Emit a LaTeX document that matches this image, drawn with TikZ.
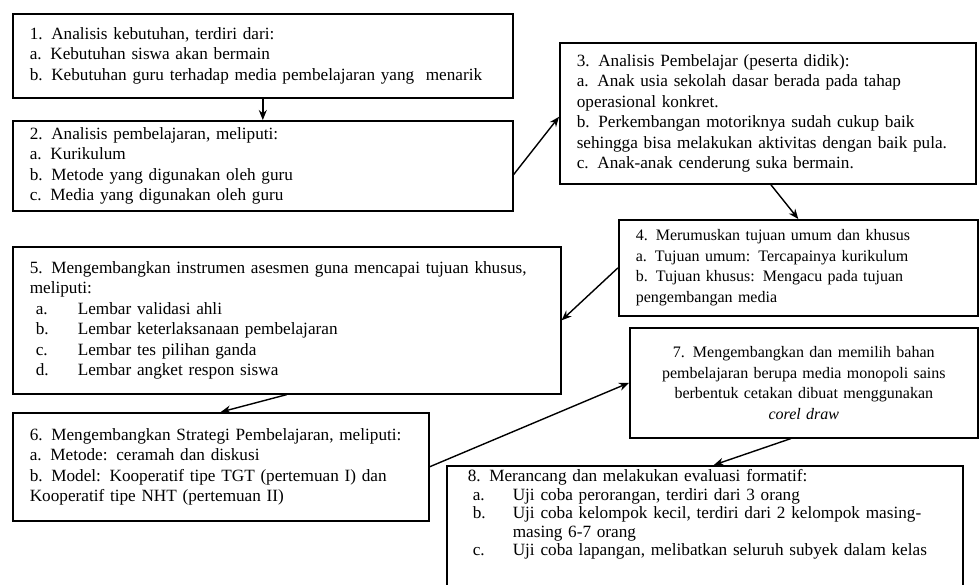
\documentclass[tikz,border=0pt]{standalone}
\usepackage{fontspec}
\setmainfont{Liberation Serif}
\usetikzlibrary{arrows.meta,calc}
\begin{document}
\begin{tikzpicture}[x=1pt,y=-1pt,
  box/.style={draw=black, line width=1.6pt, anchor=north west, inner xsep=17pt, inner ysep=4pt, align=left,
    font=\fontsize{17.2}{20.5}\selectfont},
  smallbox/.style={box, font=\fontsize{16}{20.5}\selectfont},
  arr/.style={line width=1.4pt, -{Stealth[length=10pt,width=8pt]}}]
\useasboundingbox (0,0) rectangle (979,584);
\fill[white] (0,0) rectangle (979,584);

\node[box, text width=466pt, minimum height=84pt] (b1) at (12,13) {%
1. Analisis kebutuhan, terdiri dari:\\
a. Kebutuhan siswa akan bermain\\
b. Kebutuhan guru terhadap media pembelajaran yang~ menarik};

\node[box, text width=466pt, minimum height=90pt] (b2) at (12,120) {%
2. Analisis pembelajaran, meliputi:\\
a. Kurikulum\\
b. Metode yang digunakan oleh guru\\
c. Media yang digunakan oleh guru};

\node[box, text width=382pt, minimum height=141pt] (b3) at (559,42) {%
3. Analisis Pembelajar (peserta didik):\\
a. Anak usia sekolah dasar berada pada tahap\\
operasional konkret.\\
b. Perkembangan motoriknya sudah cukup baik\\
sehingga bisa melakukan aktivitas dengan baik pula.\\
c. Anak-anak cenderung suka bermain.};

\node[smallbox, text width=325pt, minimum height=96pt] (b4) at (618,219) {%
4. Merumuskan tujuan umum dan khusus\\
a. Tujuan umum: Tercapainya kurikulum\\
b. Tujuan khusus: Mengacu pada tujuan\\
pengembangan media};

\node[box, text width=514pt, minimum height=147pt] (b5) at (12,246) {%
5. Mengembangkan instrumen asesmen guna mencapai tujuan khusus,\\
meliputi:\\
\hspace*{6pt}\makebox[42pt][l]{a.}Lembar validasi ahli\\
\hspace*{6pt}\makebox[42pt][l]{b.}Lembar keterlaksanaan pembelajaran\\
\hspace*{6pt}\makebox[42pt][l]{c.}Lembar tes pilihan ganda\\
\hspace*{6pt}\makebox[42pt][l]{d.}Lembar angket respon siswa};

\node[box, text width=382pt, minimum height=108pt] (b6) at (12,412) {%
6. Mengembangkan Strategi Pembelajaran, meliputi:\\
a. Metode: ceramah dan diskusi\\
b. Model: Kooperatif tipe TGT (pertemuan I) dan\\
Kooperatif tipe NHT (pertemuan II)};

\node[smallbox, text width=314pt, minimum height=110pt, align=center] (b7) at (629,327) {%
7. Mengembangkan dan memilih bahan\\
pembelajaran berupa media monopoli sains\\
berbentuk cetakan dibuat menggunakan\\
\textit{corel draw}};

\node[box, font=\fontsize{17.2}{18.5}\selectfont, text width=482pt, minimum height=150pt] (b8) at (446,465) {%
\hspace*{4pt}8. Merancang dan melakukan evaluasi formatif:\\
\hspace*{9pt}\makebox[40pt][l]{a.}Uji coba perorangan, terdiri dari 3 orang\\
\hspace*{9pt}\makebox[40pt][l]{b.}Uji coba kelompok kecil, terdiri dari 2 kelompok masing-\\
\hspace*{49pt}masing 6-7 orang\\
\hspace*{9pt}\makebox[40pt][l]{c.}Uji coba lapangan, melibatkan seluruh subyek dalam kelas\\
\rule{0pt}{60pt}};

\draw[arr] (b1.south) -- (b2.north);
\draw[arr] ([yshift=37pt]b2.south east) -- ([yshift=-3.5pt]b3.west);
\draw[arr] ([xshift=3pt]b3.south) -- (b4.north);
\draw[arr] (b4.west) -- (b5.east);
\draw[arr] (b5.south) -- (b6.north);
\draw[arr] (b6.east) -- (b7.west);
\draw[arr] ([xshift=-13pt]b7.south) -- ([xshift=9pt]b8.north);
\end{tikzpicture}
\end{document}
